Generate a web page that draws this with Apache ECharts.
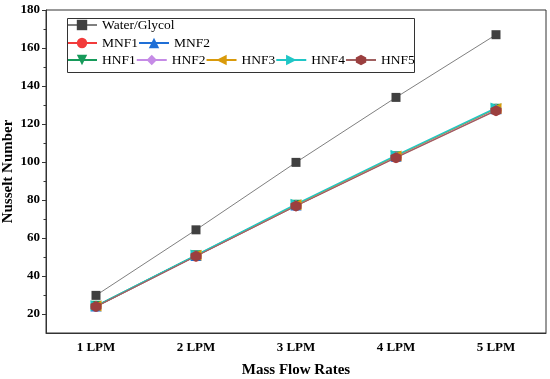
<!DOCTYPE html>
<html>
<head>
<meta charset="utf-8">
<script src="https://cdn.jsdelivr.net/npm/echarts@6/dist/echarts.min.js"></script>
<style>html,body{margin:0;padding:0;background:#fff;}#c{width:550px;height:379px;}</style>
</head>
<body>
<div id="c"></div>
<script>
const categories = ['1 LPM', '2 LPM', '3 LPM', '4 LPM', '5 LPM'];
const yMajorTicks = [20, 40, 60, 80, 100, 120, 140, 160, 180];
const yMinorTicks = [30, 50, 70, 90, 110, 130, 150, 170];
const waterGlycol = [29.8, 64.3, 99.8, 134.0, 167.0];
const MNF1 = [24.0, 50.5, 77.0, 102.5, 127.3];
const MNF2 = [24.2, 50.8, 77.4, 103.0, 128.0];
const HNF1 = [24.1, 50.7, 77.2, 102.8, 127.7];
const HNF2 = [24.0, 50.6, 77.1, 102.7, 127.6];
const HNF3 = [24.2, 50.9, 77.5, 103.2, 128.1];
const HNF4 = [24.3, 51.0, 77.8, 103.5, 128.4];
const HNF5 = [23.9, 50.4, 76.8, 102.3, 127.0];

const serif = '"Liberation Serif", "Times New Roman", serif';
const hexagon = 'path://M1,0 L2.732,1 L2.732,3 L1,4 L-0.732,3 L-0.732,1 Z';
const triDown = 'path://M0,0 L2,0 L1,1.8 Z';
const triLeft = 'path://M0,1 L1.8,0 L1.8,2 Z';
const triRight = 'path://M0,0 L1.8,1 L0,2 Z';

function ser(name, data, color, symbol, size, lw, lineColor) {
  return {
    name: name, type: 'line', data: data,
    symbol: symbol, symbolSize: size,
    lineStyle: {color: lineColor || color, width: lw},
    itemStyle: {color: color},
    emphasis: {disabled: true},
    animation: false
  };
}

const series = [
  ser('Water/Glycol', waterGlycol, '#404040', 'rect', 9, 1, '#808080'),
  ser('MNF1', MNF1, '#f23b3b', 'circle', 11, 1.2),
  ser('MNF2', MNF2, '#1f6fd6', 'triangle', 11, 1.2),
  ser('HNF1', HNF1, '#169a5a', triDown, 11, 1.5),
  ser('HNF2', HNF2, '#c58be6', 'diamond', 11, 1.2),
  ser('HNF3', HNF3, '#d99a0b', triLeft, 11, 1.2),
  ser('HNF4', HNF4, '#20c6c6', triRight, 11, 1.5),
  ser('HNF5', HNF5, '#9b3f3f', hexagon, 11, 1.2, '#a06060')
];

const legendBase = {
  left: 66, orient: 'horizontal', itemGap: 0, itemWidth: 30, itemHeight: 13,
  padding: 0, selectedMode: false,
  textStyle: {fontFamily: serif, fontSize: 13.5, color: '#000', lineHeight: 14}
};

const chart = echarts.init(document.getElementById('c'), null, {renderer: 'canvas'});
chart.setOption({
  backgroundColor: '#fff',
  animation: false,
  grid: {left: 46, right: 4, top: 10, bottom: 46, outerBoundsMode: 'none', containLabel: false,
         show: true, borderColor: '#333', borderWidth: 1, backgroundColor: 'transparent'},
  legend: [
    Object.assign({}, legendBase, {top: 18, data: ['Water/Glycol']}),
    Object.assign({}, legendBase, {top: 36, data: ['MNF1', 'MNF2']}),
    Object.assign({}, legendBase, {top: 53, data: ['HNF1', 'HNF2', 'HNF3', 'HNF4', 'HNF5']})
  ],
  graphic: [{
    type: 'rect', left: 65, top: 16, z: 100, silent: true,
    shape: {width: 347, height: 54},
    style: {fill: 'none', stroke: '#333', lineWidth: 1}
  }],
  xAxis: {
    type: 'category', data: categories, boundaryGap: true,
    name: 'Mass Flow Rates', nameLocation: 'middle', nameGap: 30,
    nameTextStyle: {fontFamily: serif, fontSize: 15, fontWeight: 'bold', color: '#000'},
    axisLine: {lineStyle: {color: '#333', width: 1}},
    axisTick: {alignWithLabel: true, length: 4, lineStyle: {color: '#333'}},
    axisLabel: {fontFamily: serif, fontSize: 13, fontWeight: 'bold', color: '#000', margin: 8},
    splitLine: {show: false}
  },
  yAxis: [{
    type: 'value', min: 10, max: 180, interval: 10,
    name: 'Nusselt Number', nameLocation: 'middle', nameGap: 30, nameMoveOverlap: false,
    nameTextStyle: {fontFamily: serif, fontSize: 15, fontWeight: 'bold', color: '#000'},
    axisLine: {show: true, lineStyle: {color: '#333', width: 1}},
    axisTick: {show: true, length: 4, customValues: yMajorTicks, lineStyle: {color: '#333'}},
    axisLabel: {fontFamily: serif, fontSize: 13, fontWeight: 'bold', color: '#000', margin: 6, customValues: yMajorTicks},
    splitLine: {show: false}
  }, {
    type: 'value', min: 10, max: 180, interval: 10, position: 'left', offset: 0,
    axisLine: {show: false},
    axisTick: {show: true, length: 2.5, customValues: yMinorTicks, lineStyle: {color: '#333'}},
    axisLabel: {show: false},
    splitLine: {show: false}
  }],
  series: series
});
</script>
</body>
</html>
